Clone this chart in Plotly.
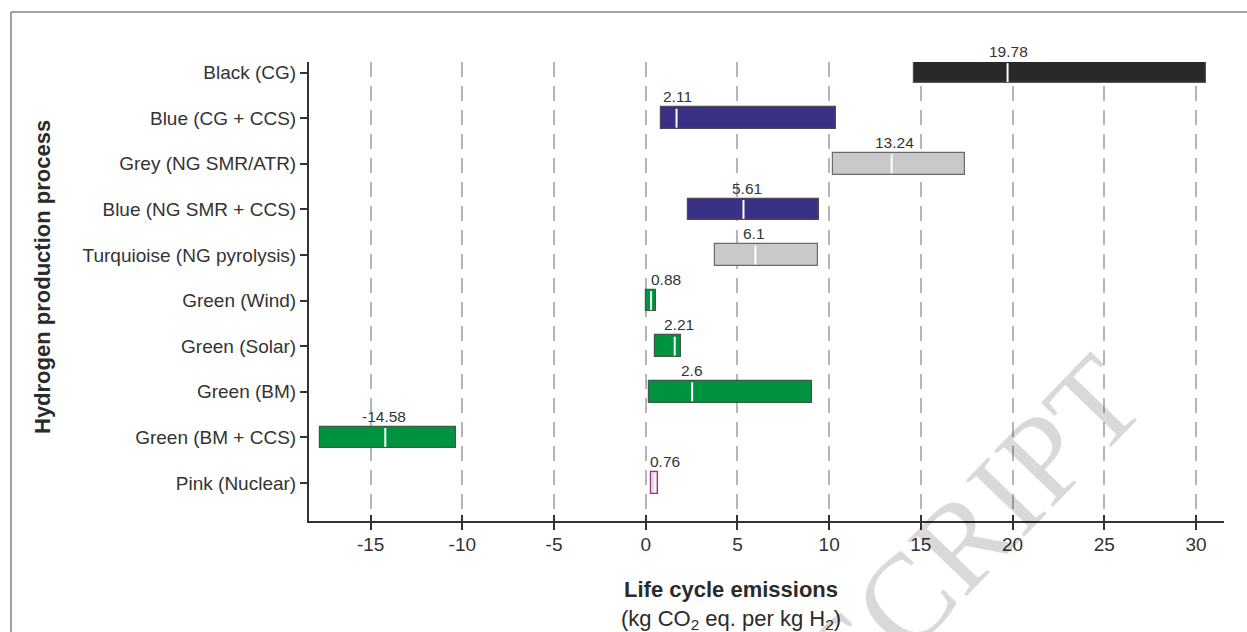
import plotly.graph_objects as go

# Hydrogen production routes (top to bottom)
processes = [
    "Black (CG)",
    "Blue (CG + CCS)",
    "Grey (NG SMR/ATR)",
    "Blue (NG SMR + CCS)",
    "Turquioise (NG pyrolysis)",
    "Green (Wind)",
    "Green (Solar)",
    "Green (BM)",
    "Green (BM + CCS)",
    "Pink (Nuclear)",
]

# Life cycle emissions, kg CO2 eq. per kg H2
q1_values = [14.60, 0.82, 10.19, 2.31, 3.76, 0.02, 0.51, 0.16, -17.75, 0.31]
median_values = [19.73, 1.68, 13.41, 5.33, 5.98, 0.29, 1.58, 2.53, -14.20, 0.49]
q3_values = [30.54, 10.35, 17.39, 9.44, 9.37, 0.55, 1.91, 9.04, -10.37, 0.69]
mean_values = [19.78, 2.11, 13.24, 5.61, 6.1, 0.88, 2.21, 2.6, -14.58, 0.76]

x_ticks = [-15, -10, -5, 0, 5, 10, 15, 20, 25, 30]

# styling
fill_colors = ["#2a2928", "#3a3187", "#c8c9c8", "#3a3187", "#c8c9c8",
               "#00933f", "#00933f", "#00933f", "#00933f", "#f3c6e8"]
edge_colors = ["#555555", "#4a4a5a", "#6a6a6a", "#4a4a5a", "#6a6a6a",
               "#3d5a46", "#3d5a46", "#3d5a46", "#3d5a46", "#8a3a7e"]
label_xshift = [1, 1, 3, 4, -1, 15, 4, 0, -1, 10]

W, H = 1247, 632
ML, MR, MT, MB = 309, 23, 62, 111
PW, PH = W - ML - MR, H - MT - MB


def px_x(px):
    return (px - ML) / PW


def px_y(py):
    return (H - MB - py) / PH


pos = list(range(len(processes)))
half = 0.237
y_range = [9.833, -0.232]
row_px = PH / (y_range[0] - y_range[1])

fig = go.Figure()

fig.add_trace(go.Bar(
    orientation="h",
    y=pos,
    x=[b - a for a, b in zip(q1_values, q3_values)],
    base=q1_values,
    width=2 * half,
    marker=dict(color=fill_colors, line=dict(color=edge_colors, width=1.2)),
    hoverinfo="skip",
    showlegend=False,
))

# white median markers
mx, my = [], []
for p, m in zip(pos, median_values):
    mx += [m, m, None]
    my += [p - half + 0.03, p + half - 0.03, None]
fig.add_trace(go.Scatter(
    x=mx, y=my, mode="lines",
    line=dict(color="white", width=2),
    hoverinfo="skip", showlegend=False,
))

# helper trace so the tick-through axis is drawn
fig.add_trace(go.Scatter(x=[0], y=[0], xaxis="x2", mode="markers",
                         marker=dict(opacity=0), hoverinfo="skip",
                         showlegend=False))

annotations = []
for p, m, v, dx in zip(pos, median_values, mean_values, label_xshift):
    annotations.append(dict(
        x=m, y=p, xref="x", yref="y",
        text=f"{v:g}", showarrow=False,
        xanchor="center", yanchor="bottom", xshift=dx, yshift=half * row_px,
        font=dict(family="Liberation Sans, Arial, sans-serif", size=15.5,
                  color="#333333"),
    ))

# axis titles
annotations.append(dict(
    x=px_x(731), y=px_y(605), xref="paper", yref="paper",
    text="<b>Life cycle emissions</b><br>(kg CO<sub>2</sub> eq. per kg H<sub>2</sub>)",
    showarrow=False, xanchor="center", yanchor="middle",
    font=dict(family="Liberation Sans, Arial, sans-serif", size=22, color="#2b2b2b"),
))
annotations.append(dict(
    x=px_x(42), y=px_y(277), xref="paper", yref="paper",
    text="<b>Hydrogen production process</b>", textangle=-90,
    showarrow=False, xanchor="center", yanchor="middle",
    font=dict(family="Liberation Sans, Arial, sans-serif", size=22, color="#2b2b2b"),
))

# manuscript watermark
annotations.append(dict(
    x=px_x(842), y=px_y(665), xref="paper", yref="paper",
    text="MANUSCRIPT", textangle=-46,
    showarrow=False, xanchor="center", yanchor="middle",
    font=dict(family="Liberation Serif, Times New Roman, serif", size=124,
              color="rgba(0,0,0,0.15)"),
))

shapes = [
    dict(type="line", xref="paper", yref="paper",
         x0=px_x(11), x1=px_x(11), y0=px_y(12), y1=px_y(700),
         line=dict(color="#808080", width=1.5)),
    dict(type="line", xref="paper", yref="paper",
         x0=px_x(11), x1=px_x(1300), y0=px_y(12), y1=px_y(12),
         line=dict(color="#808080", width=1.5)),
]

x_range = [-18.36, 31.53]

fig.update_layout(
    width=W, height=H,
    margin=dict(l=ML, r=MR, t=MT, b=MB, pad=0),
    paper_bgcolor="white", plot_bgcolor="white",
    font=dict(family="Liberation Sans, Arial, sans-serif", size=19, color="#333333"),
    bargap=0,
    xaxis=dict(
        range=x_range, tickvals=x_ticks, ticktext=[str(t) for t in x_ticks],
        showgrid=True, gridcolor="#b5b5b5", gridwidth=1.6, griddash="15px,9px",
        zeroline=False, showline=True, linecolor="#333333", linewidth=2,
        ticks="outside", ticklen=7, tickwidth=1.5, tickcolor="#333333",
        tickfont=dict(size=19, color="#333333"), ticklabelstandoff=-2,
    ),
    xaxis2=dict(
        range=x_range, tickvals=x_ticks, overlaying="x", anchor="y",
        side="bottom", showgrid=False, zeroline=False, showline=False,
        ticks="inside", ticklen=6, tickwidth=1.5, tickcolor="#333333",
        showticklabels=False,
    ),
    yaxis=dict(
        range=y_range, tickvals=pos, ticktext=processes,
        showgrid=False, zeroline=False, showline=True, linecolor="#333333",
        linewidth=2, ticks="outside", ticklen=7, tickwidth=1.5,
        tickcolor="#333333", tickfont=dict(size=19, color="#333333"),
    ),
    annotations=annotations,
    shapes=shapes,
)

fig.write_html("out.html")
